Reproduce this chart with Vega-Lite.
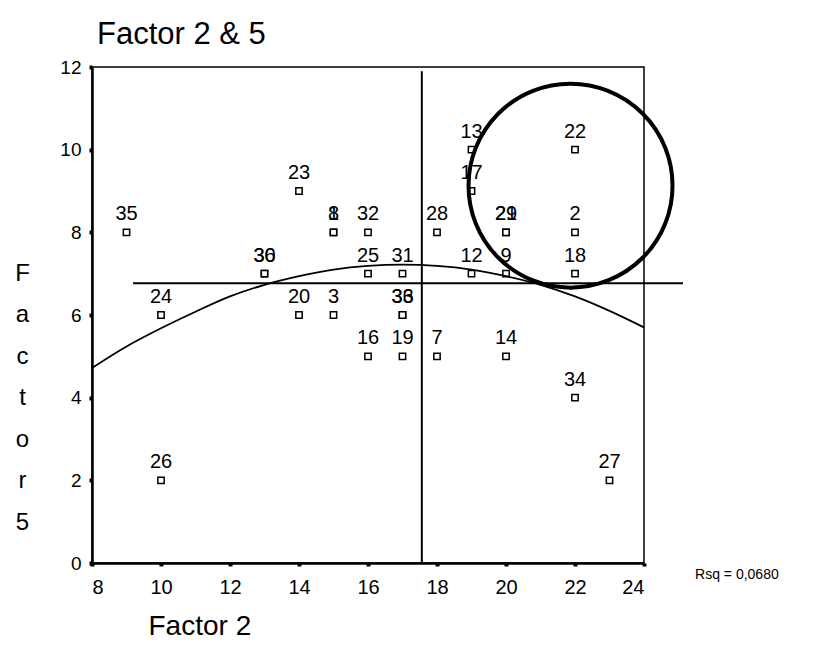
{
  "$schema": "https://vega.github.io/schema/vega-lite/v6.json",
  "autosize": "none",
  "width": 552,
  "height": 496,
  "padding": {"left": 92, "top": 67, "right": 181, "bottom": 100},
  "background": "white",
  "config": {
    "font": "Liberation Sans",
    "view": {"stroke": "black", "strokeWidth": 1.5},
    "axis": {"grid": false}
  },
  "title": {
    "text": "Factor 2 & 5",
    "anchor": "start",
    "frame": "group",
    "dx": 5,
    "offset": 7,
    "fontSize": 31,
    "fontWeight": "normal",
    "font": "Liberation Sans",
    "color": "black"
  },
  "datasets": {
    "pts": [
      {"x": 9, "y": 8, "label": "35"},
      {"x": 10, "y": 6, "label": "24"},
      {"x": 10, "y": 2, "label": "26"},
      {"x": 13, "y": 7, "label": "30"},
      {"x": 13, "y": 7, "label": "36"},
      {"x": 14, "y": 9, "label": "23"},
      {"x": 14, "y": 6, "label": "20"},
      {"x": 15, "y": 8, "label": "1"},
      {"x": 15, "y": 8, "label": "8"},
      {"x": 15, "y": 6, "label": "3"},
      {"x": 16, "y": 8, "label": "32"},
      {"x": 16, "y": 7, "label": "25"},
      {"x": 16, "y": 5, "label": "16"},
      {"x": 17, "y": 7, "label": "31"},
      {"x": 17, "y": 6, "label": "33"},
      {"x": 17, "y": 6, "label": "36"},
      {"x": 17, "y": 5, "label": "19"},
      {"x": 18, "y": 8, "label": "28"},
      {"x": 18, "y": 5, "label": "7"},
      {"x": 19, "y": 10, "label": "13"},
      {"x": 19, "y": 9, "label": "17"},
      {"x": 19, "y": 7, "label": "12"},
      {"x": 20, "y": 8, "label": "21"},
      {"x": 20, "y": 8, "label": "29"},
      {"x": 20, "y": 7, "label": "9"},
      {"x": 20, "y": 5, "label": "14"},
      {"x": 22, "y": 10, "label": "22"},
      {"x": 22, "y": 8, "label": "2"},
      {"x": 22, "y": 7, "label": "18"},
      {"x": 22, "y": 4, "label": "34"},
      {"x": 23, "y": 2, "label": "27"}
    ],
    "curve": [
      {"x": 8, "y": 4.72},
      {"x": 9, "y": 5.24},
      {"x": 10, "y": 5.68},
      {"x": 11, "y": 6.08},
      {"x": 12, "y": 6.45},
      {"x": 13, "y": 6.73},
      {"x": 14, "y": 6.94},
      {"x": 15, "y": 7.10},
      {"x": 16, "y": 7.19},
      {"x": 17, "y": 7.22},
      {"x": 18, "y": 7.19},
      {"x": 19, "y": 7.10},
      {"x": 20, "y": 6.94},
      {"x": 21, "y": 6.73},
      {"x": 22, "y": 6.45},
      {"x": 23, "y": 6.10},
      {"x": 24, "y": 5.70}
    ]
  },
  "layer": [
    {
      "data": {"name": "pts"},
      "mark": {"type": "point", "shape": "square", "size": 40, "filled": true, "fill": "white", "stroke": "black", "strokeWidth": 1.5, "opacity": 1},
      "encoding": {
        "x": {
          "field": "x", "type": "quantitative",
          "scale": {"domain": [8, 24], "nice": false, "zero": false},
          "axis": {
            "values": [8, 10, 12, 14, 16, 18, 20, 22, 24],
            "title": "Factor 2",
            "titleFontSize": 28, "titleFontWeight": "normal", "titleColor": "black",
            "titleAnchor": "start", "titleAlign": "left", "titleBaseline": "alphabetic",
            "titleX": 56, "titleY": 71,
            "labelFontSize": 20, "labelColor": "black", "labelPadding": 11,
            "domainColor": "black", "domainWidth": 2.5,
            "tickColor": "black", "tickSize": 3, "tickWidth": 4
          }
        },
        "y": {
          "field": "y", "type": "quantitative",
          "scale": {"domain": [0, 12], "nice": false, "zero": false},
          "axis": {
            "values": [0, 2, 4, 6, 8, 10, 12],
            "title": ["F", "a", "c", "t", "o", "r", "5"],
            "titleAngle": 0, "titleFontSize": 24, "titleFontWeight": "normal", "titleColor": "black",
            "titleAlign": "center", "titleBaseline": "alphabetic", "titleLineHeight": 41.5,
            "titleX": -70, "titleY": 213,
            "labelFontSize": 19, "labelColor": "black", "labelPadding": 8,
            "domainColor": "black", "domainWidth": 2.5,
            "tickColor": "black", "tickSize": 3, "tickWidth": 4
          }
        }
      }
    },
    {
      "data": {"name": "curve"},
      "mark": {"type": "line", "color": "black", "strokeWidth": 1.8, "interpolate": "monotone", "clip": false},
      "encoding": {
        "x": {"field": "x", "type": "quantitative"},
        "y": {"field": "y", "type": "quantitative"}
      }
    },
    {
      "data": {"values": [{"x": 9.19, "x2": 25.13, "y": 6.77}]},
      "mark": {"type": "rule", "color": "black", "strokeWidth": 2, "clip": false},
      "encoding": {
        "x": {"field": "x", "type": "quantitative"},
        "x2": {"field": "x2"},
        "y": {"field": "y", "type": "quantitative"}
      }
    },
    {
      "data": {"values": [{"x": 17.56, "y": 0, "y2": 11.9}]},
      "mark": {"type": "rule", "color": "black", "strokeWidth": 2, "clip": false},
      "encoding": {
        "x": {"field": "x", "type": "quantitative"},
        "y": {"field": "y", "type": "quantitative"},
        "y2": {"field": "y2"}
      }
    },
    {
      "data": {"name": "pts"},
      "mark": {"type": "text", "fontSize": 20, "color": "black", "baseline": "alphabetic", "align": "center", "dy": -12, "clip": false},
      "encoding": {
        "x": {"field": "x", "type": "quantitative"},
        "y": {"field": "y", "type": "quantitative"},
        "text": {"field": "label"}
      }
    },
    {
      "data": {"values": [{"x": 21.87, "y": 9.13}]},
      "mark": {"type": "point", "shape": "circle", "size": 41616, "filled": false, "stroke": "black", "strokeWidth": 4, "opacity": 1, "clip": false},
      "encoding": {
        "x": {"field": "x", "type": "quantitative"},
        "y": {"field": "y", "type": "quantitative"}
      }
    },
    {
      "data": {"values": [{"x": 25.48, "y": -0.29, "t": "Rsq = 0,0680"}]},
      "mark": {"type": "text", "fontSize": 14, "color": "black", "align": "left", "baseline": "middle", "clip": false},
      "encoding": {
        "x": {"field": "x", "type": "quantitative"},
        "y": {"field": "y", "type": "quantitative"},
        "text": {"field": "t"}
      }
    }
  ]
}
